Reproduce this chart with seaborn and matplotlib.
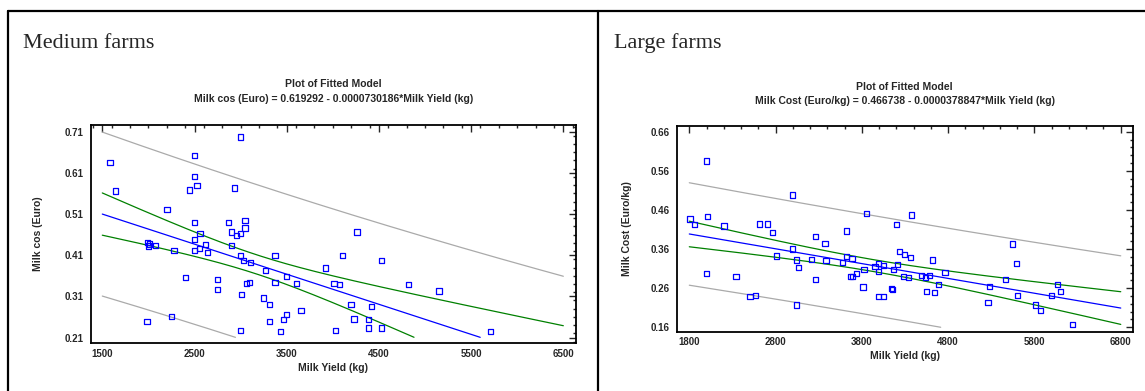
import numpy as np
import pandas as pd
import matplotlib
matplotlib.use("Agg")
import matplotlib.pyplot as plt
from matplotlib.lines import Line2D
from matplotlib.ticker import MultipleLocator, FormatStrFormatter
import seaborn as sns

# Medium farms: milk yield (kg) vs milk cost (Euro)
med_yield = [1583, 1643, 1984, 1990, 2000, 2010, 2079, 2202, 2250, 2278, 2405,
             2448, 2500, 2500, 2528, 2500, 2560, 2500, 2500, 2556, 2623, 2639,
             2750, 2750, 2873, 2905, 2937, 2905, 2952, 2996, 2996, 3048, 3048,
             2996, 3028, 3103, 3012, 2996, 3063, 3095, 3246, 3266, 3310, 3310,
             3373, 3373, 3496, 3433, 3468, 3500, 3603, 3655, 3921, 4012, 4071,
             4103, 4028, 4198, 4230, 4262, 4389, 4389, 4421, 4528, 4528, 4821,
             5151, 5714]
med_cost = [0.635, 0.566, 0.248, 0.440, 0.432, 0.437, 0.434, 0.520, 0.261, 0.421,
            0.355, 0.568, 0.652, 0.600, 0.580, 0.490, 0.462, 0.448, 0.421, 0.426,
            0.435, 0.417, 0.351, 0.327, 0.490, 0.466, 0.573, 0.434, 0.458, 0.697,
            0.462, 0.494, 0.476, 0.410, 0.397, 0.392, 0.314, 0.227, 0.341, 0.344,
            0.306, 0.372, 0.290, 0.248, 0.410, 0.344, 0.359, 0.224, 0.254, 0.265,
            0.341, 0.275, 0.379, 0.342, 0.338, 0.410, 0.227, 0.290, 0.255, 0.466,
            0.254, 0.233, 0.286, 0.397, 0.233, 0.338, 0.323, 0.224]
med_coef = (0.619292, -0.0000730186)

# Large farms: milk yield (kg) vs milk cost (Euro/kg)
large_yield = [1808, 1859, 1999, 2012, 1999, 2203, 2342, 2503, 2563, 2609, 2703,
               2766, 2808, 2995, 2995, 3046, 3063, 3046, 3215, 3262, 3262, 3372,
               3385, 3571, 3622, 3622, 3686, 3665, 3690, 3737, 3813, 3825, 3855,
               3953, 3995, 3995, 4046, 3995, 4046, 4139, 4156, 4164, 4198, 4215,
               4236, 4292, 4279, 4342, 4359, 4376, 4490, 4541, 4580, 4546, 4622,
               4639, 4686, 4763, 5262, 5279, 5465, 5546, 5588, 5605, 5813, 5873,
               5995, 6063, 6105, 6245]
large_cost = [0.437, 0.422, 0.585, 0.443, 0.297, 0.419, 0.290, 0.238, 0.241, 0.424,
              0.424, 0.402, 0.342, 0.498, 0.360, 0.332, 0.312, 0.217, 0.333, 0.392,
              0.283, 0.374, 0.330, 0.325, 0.406, 0.340, 0.335, 0.290, 0.290, 0.297,
              0.263, 0.308, 0.450, 0.315, 0.323, 0.303, 0.318, 0.238, 0.238, 0.259,
              0.256, 0.308, 0.422, 0.321, 0.353, 0.346, 0.290, 0.287, 0.339, 0.447,
              0.293, 0.287, 0.293, 0.252, 0.332, 0.248, 0.269, 0.300, 0.224, 0.265,
              0.283, 0.373, 0.324, 0.241, 0.217, 0.203, 0.241, 0.269, 0.252, 0.168]
large_coef = (0.466738, -0.0000378847)

panels = [
    dict(name="Medium farms", x=med_yield, y=med_cost, coef=med_coef,
         eq="Milk cos (Euro) = 0.619292 - 0.0000730186*Milk Yield (kg)",
         ylabel="Milk cos (Euro)", xticks=(1500, 6500), yticks=(0.21, 0.71),
         xlim=(1374, 6638), ylim=(0.196, 0.726),
         rect=[0.0792, 0.1220, 0.4239, 0.5583], title_x=22.7 / 1145),
    dict(name="Large farms", x=large_yield, y=large_cost, coef=large_coef,
         eq="Milk Cost (Euro/kg) = 0.466738 - 0.0000378847*Milk Yield (kg)",
         ylabel="Milk Cost (Euro/kg)", xticks=(1800, 6800), yticks=(0.16, 0.66),
         xlim=(1654, 6939), ylim=(0.1487, 0.6746),
         rect=[0.5910, 0.1517, 0.3983, 0.5260], title_x=614 / 1145),
]


def fitted_bands(x, y, coef, grid, t=1.997):
    x = np.asarray(x, float)
    y = np.asarray(y, float)
    b0, b1 = coef
    n = len(x)
    s = np.sqrt(np.sum((y - (b0 + b1 * x)) ** 2) / (n - 2))
    xbar = x.mean()
    sxx = np.sum((x - xbar) ** 2)
    fit = b0 + b1 * grid
    h = 1.0 / n + (grid - xbar) ** 2 / sxx
    ci = t * s * np.sqrt(h)
    pi = t * s * np.sqrt(1 + h)
    return fit, fit - ci, fit + ci, fit - pi, fit + pi


sns.set_style("white")
plt.rcParams["font.family"] = ["Liberation Sans", "DejaVu Sans"]

fig = plt.figure(figsize=(11.45, 3.91), dpi=100)

for p in panels:
    ax = fig.add_axes(p["rect"])
    grid = np.linspace(p["xticks"][0], p["xticks"][1], 600)
    fit, ci_lo, ci_hi, pi_lo, pi_hi = fitted_bands(p["x"], p["y"], p["coef"], grid)
    ymin = p["yticks"][0]
    for vals, col in [(pi_hi, "#aaaaaa"), (pi_lo, "#aaaaaa"),
                      (ci_hi, "#008000"), (ci_lo, "#008000"), (fit, "#0000ff")]:
        v = np.where(vals >= ymin, vals, np.nan)
        ax.plot(grid, v, color=col, lw=0.9)
    df = pd.DataFrame({"x": p["x"], "y": p["y"]})
    sns.scatterplot(data=df, x="x", y="y", ax=ax, marker="s", s=14,
                    facecolor="none", edgecolor="#0000ff", linewidth=0.9, zorder=5)

    ax.set_xlim(*p["xlim"])
    ax.set_ylim(*p["ylim"])
    ax.set_xticks(np.arange(p["xticks"][0], p["xticks"][1] + 1, 1000))
    ax.set_yticks(np.round(np.arange(p["yticks"][0], p["yticks"][1] + 0.001, 0.1), 2))
    ax.xaxis.set_minor_locator(MultipleLocator(200))
    ax.yaxis.set_minor_locator(MultipleLocator(0.02))
    ax.yaxis.set_major_formatter(FormatStrFormatter("%.2f"))
    ax.tick_params(which="both", direction="in", top=True, right=True, width=1)
    ax.tick_params(which="major", length=5)
    ax.tick_params(which="minor", length=2.5)
    ax.tick_params(axis="x", pad=4)
    ax.tick_params(axis="y", pad=5)
    for lab in ax.get_xticklabels() + ax.get_yticklabels():
        lab.set_fontsize(7)
        lab.set_fontweight("bold")
    for sp in ax.spines.values():
        sp.set_linewidth(1.3)
        sp.set_color("black")

    ax.set_xlabel("Milk Yield (kg)", fontsize=7.5, fontweight="bold")
    ax.set_ylabel(p["ylabel"], fontsize=7.5, fontweight="bold")
    ax.xaxis.set_label_coords(0.5, -0.092)
    ax.yaxis.set_label_coords(-0.098, 0.5)

    ax.text(0.5, 1.19, "Plot of Fitted Model", transform=ax.transAxes,
            ha="center", va="center", fontsize=7.5, fontweight="bold")
    ax.text(0.5, 1.12, p["eq"], transform=ax.transAxes,
            ha="center", va="center", fontsize=7.5, fontweight="bold")

    fig.text(p["title_x"], 1 - 43 / 391, p["name"], ha="left", va="center",
             fontsize=16, family=["Liberation Serif", "DejaVu Serif"])

# panel frame lines
lw = 1.6
fig.add_artist(Line2D([8 / 1145, 1], [1 - 11 / 391] * 2, color="black", lw=lw))
fig.add_artist(Line2D([8 / 1145] * 2, [0, 1 - 11 / 391], color="black", lw=lw))
fig.add_artist(Line2D([598 / 1145] * 2, [0, 1 - 11 / 391], color="black", lw=lw))

fig.savefig("out.png", dpi=100)
